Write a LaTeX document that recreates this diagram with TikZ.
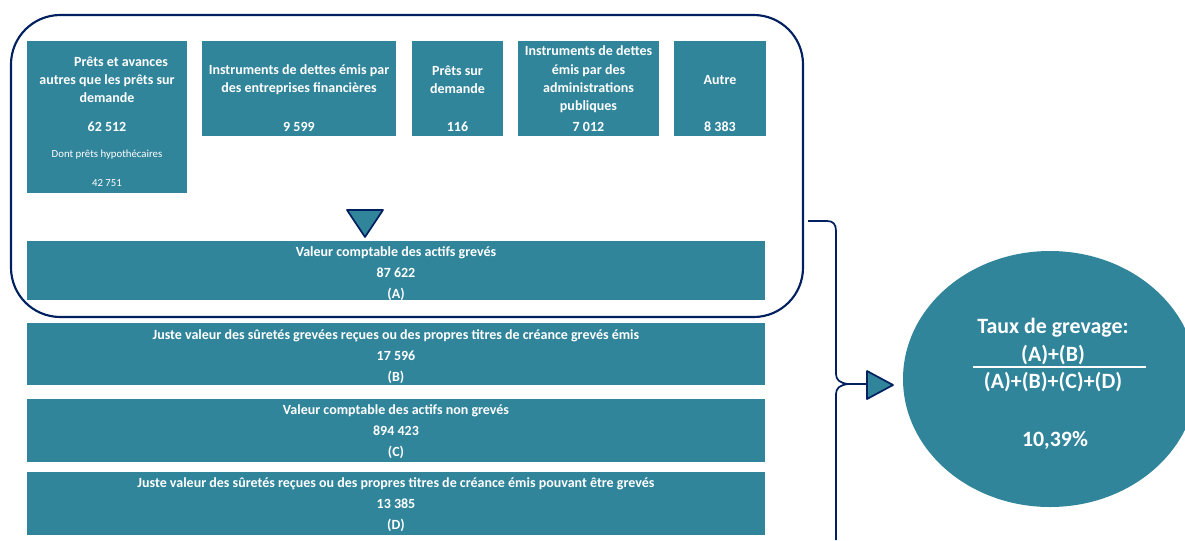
\documentclass[tikz,border=0pt]{standalone}
\usepackage{fontspec}
\setmainfont{Carlito}
\usetikzlibrary{shapes.geometric}
\definecolor{boxteal}{RGB}{49,133,155}
\definecolor{framenavy}{RGB}{0,32,96}

\begin{document}
\begin{tikzpicture}[x=0.75pt,y=-0.75pt,
    box/.style={fill=boxteal},
    lbl/.style={text=white,inner sep=0pt,align=center,
      font=\bfseries\fontsize{10.5}{13.7}\selectfont},
    big/.style={text=white,inner sep=0pt,align=center,
      font=\bfseries\fontsize{10.5}{15.75}\selectfont},
    small/.style={text=white,inner sep=0pt,font=\fontsize{8.1}{10}\selectfont},
    rate/.style={text=white,inner sep=0pt,font=\bfseries\fontsize{16.4}{18}\selectfont},
    tri/.style={fill=boxteal,draw=framenavy,line width=1.3pt,line join=round}]
    \useasboundingbox (0,0) rectangle (1185,540);
    % encumbered assets frame
    \draw[framenavy,line width=1.6pt,rounded corners=37pt] (11,15) rectangle (803,317);
    % top boxes
    \fill[box] (27,41) rectangle (187,193);
    \fill[box] (202,41) rectangle (396,136);
    \fill[box] (412,41) rectangle (503,136);
    \fill[box] (518,41) rectangle (659,136);
    \fill[box] (674,41) rectangle (766,136);
    \node[lbl] (t1) at (107,80) {\hspace*{21pt}Prêts et avances\\autres que les prêts sur\\demande};
    \node[lbl] (n1) at (107,127) {62 512};
    \node[small] (s1) at (107,155) {Dont prêts hypothécaires};
    \node[small] (s1v) at (107,183) {42 751};
    \node[lbl] (t2) at (299,80) {Instruments de dettes émis par\\des entreprises financières};
    \node[lbl] (n2) at (299,127) {9 599};
    \node[lbl] (t3) at (457.5,80) {Prêts sur\\demande};
    \node[lbl] (n3) at (457.5,127) {116};
    \node[lbl] (t4) at (588.5,79.5) {Instruments de dettes\\émis par des\\administrations\\publiques};
    \node[lbl] (n4) at (588.5,127) {7 012};
    \node[lbl] (t5) at (720,80) {Autre};
    \node[lbl] (n5) at (720,127) {8 383};
    % arrow down to (A)
    \draw[tri] (347,210) -- (383,210) -- (365,237) -- cycle;
    % wide boxes
    \fill[box] (27,241) rectangle (765,300);
    \fill[box] (27,323) rectangle (765,385);
    \fill[box] (27,399) rectangle (765,462);
    \fill[box] (27,472) rectangle (765,535);
    \node[big] (a) at (396,274) {Valeur comptable des actifs grevés\\87 622\\(A)};
    \node[big] (b) at (396,357) {Juste valeur des sûretés grevées reçues ou des propres titres de créance grevés émis\\17 596\\(B)};
    \node[big] (c) at (396,432) {Valeur comptable des actifs non grevés\\894 423\\(C)};
    \node[big] (d) at (396,505) {Juste valeur des sûretés reçues ou des propres titres de créance émis pouvant être grevés\\13 385\\(D)};
    % brace and arrow to the rate
    \coordinate (braceTop) at (808,221);
    \coordinate (braceBot) at (836,540);
    \coordinate (braceTip) at (848,384);
    \coordinate (triBase) at (867,384);
    \draw[framenavy,line width=1.3pt] (braceTop) -- (827,221) .. controls (833,221) and (836,224) .. (836,231)
      -- (836,374) .. controls (836,380) and (840,383) .. (braceTip)
      .. controls (840,385) and (836,388) .. (836,394) -- (braceBot);
    \draw[framenavy,line width=1.3pt] (braceTip) -- (triBase);
    \draw[tri] (867,371) -- (893,385) -- (867,399) -- cycle;
    % rate
    \node[ellipse,fill=boxteal,minimum width=220.5pt,minimum height=192pt,inner sep=0pt] (circ) at (1050,379) {};
    \node[rate] (rt) at (1053,328) {Taux de grevage:};
    \node[rate] (rn) at (1053,355) {(A)+(B)};
    \node[rate] (rd) at (1053,382) {(A)+(B)+(C)+(D)};
    \draw[white,line width=1.2pt] (973,367) -- (1146,367);
    \node[rate] (rv) at (1055,440) {10,39\%};
\end{tikzpicture}
\end{document}
